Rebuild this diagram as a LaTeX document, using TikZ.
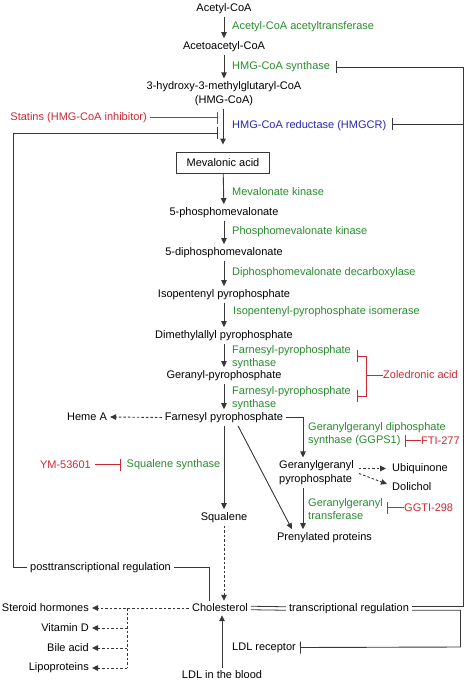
\documentclass[tikz,border=0pt]{standalone}
\usepackage{fontspec}
\setmainfont{Liberation Sans}
\usetikzlibrary{arrows.meta,calc}
\definecolor{enzg}{RGB}{40,140,45}
\definecolor{inhr}{RGB}{205,40,50}
\definecolor{enzb}{RGB}{40,40,175}
\definecolor{lnc}{RGB}{55,55,55}
\begin{document}
\begin{tikzpicture}[x=1pt,y=-1pt,
  every node/.style={font=\fontsize{11}{13.5}\selectfont, inner sep=0pt},
  met/.style={text=black, inner sep=3pt, align=center},
  enz/.style={text=enzg, anchor=west, align=left},
  inh/.style={text=inhr},
  ln/.style={draw=lnc, line width=0.9pt},
  arr/.style={ln, -{Triangle[length=6pt,width=5.5pt]}},
  darr/.style={arr, dash pattern=on 2.5pt off 2pt},
  dln/.style={ln, dash pattern=on 2.5pt off 2pt},
  redinh/.style={draw=inhr, line width=0.8pt, -{Bar[width=12pt]}},
  grayinh/.style={ln, -{Bar[width=12pt]}},
]
\useasboundingbox (0,0) rectangle (467,680);

% main column
\node[met] (acetyl) at (224,8.5) {Acetyl-CoA};
\node[met] (acetoacetyl) at (224,46.5) {Acetoacetyl-CoA};
\node[met] (hmg) at (224,93.5) {3-hydroxy-3-methylglutaryl-CoA\\(HMG-CoA)};
\node[draw=lnc, line width=0.9pt, minimum width=93pt, minimum height=21pt] (meva) at (223,162.5) {Mevalonic acid};
\node[met] (p5) at (224,212.5) {5-phosphomevalonate};
\node[met] (dp5) at (224,252.5) {5-diphosphomevalonate};
\node[met] (ipp) at (224,294.5) {Isopentenyl pyrophosphate};
\node[met] (dmapp) at (224,335.5) {Dimethylallyl pyrophosphate};
\node[met] (gpp) at (224,375.5) {Geranyl-pyrophosphate};
\node[met] (fpp) at (224,417.5) {Farnesyl pyrophosphate};
\node[met] (heme) at (87,417) {Heme A};
\node[met] (squalene) at (224,517.5) {Squalene};
\node[met] (chol) at (220,608) {Cholesterol};
\node[met] (ldl) at (222,675) {LDL in the blood};

% right branch
\node[met, anchor=west, align=left] (gg) at (276,472.5) {Geranylgeranyl\\pyrophosphate};
\node[met, anchor=west] (ubi) at (389,468.5) {Ubiquinone};
\node[met, anchor=west] (dol) at (389,487) {Dolichol};
\node[met] (pren) at (324.5,537.5) {Prenylated proteins};
\coordinate (ggx) at (303,0);

% cholesterol fates
\node[met, anchor=east] (steroid) at (92,608) {Steroid hormones};
\node[met, anchor=east] (vitd) at (92,628) {Vitamin D};
\node[met, anchor=east] (bile) at (92,648) {Bile acid};
\node[met, anchor=east] (lipo) at (92,668) {Lipoproteins};
\coordinate (br) at (127,608);

% regulation
\node[met, anchor=west] (ptr) at (27,567.5) {posttranscriptional regulation};
\node[met] (trans) at (349,608.5) {transcriptional regulation};
\node[met, anchor=east] (ldlr) at (299,647.5) {LDL receptor};

% enzymes
\node[enz] (e1) at (232,26.5) {Acetyl-CoA acetyltransferase};
\node[enz] (e2) at (232,66.5) {HMG-CoA synthase};
\node[enz, text=enzb] (e3) at (232,125.5) {HMG-CoA reductase (HMGCR)};
\node[enz] (e4) at (232,191.5) {Mevalonate kinase};
\node[enz] (e5) at (232,231.5) {Phosphomevalonate kinase};
\node[enz] (e6) at (232,272.5) {Diphosphomevalonate decarboxylase};
\node[enz] (e7) at (233,311.5) {Isopentenyl-pyrophosphate isomerase};
\node[enz] (e8) at (232,357) {Farnesyl-pyrophosphate\\synthase};
\node[enz] (e9) at (232,398) {Farnesyl-pyrophosphate\\synthase};
\node[enz] (e10) at (308,434) {Geranylgeranyl diphosphate\\synthase (GGPS1)};
\node[enz] (e11) at (308,509) {Geranylgeranyl\\transferase};
\node[enz] (sqs) at (126.5,464.5) {Squalene synthase};

% inhibitors
\node[inh, anchor=east] (statins) at (147,117.5) {Statins (HMG-CoA inhibitor)};
\node[inh, anchor=east] (ym) at (91,464.5) {YM-53601};
\node[inh, anchor=west] (zol) at (383,375) {Zoledronic acid};
\node[inh, anchor=west] (fti) at (421,440.5) {FTI-277};
\node[inh, anchor=west] (ggti) at (404,507.5) {GGTI-298};

% coordinates for bars and corners
\coordinate (sbx) at (218,0);
\coordinate (fbl) at (13,133);
\coordinate (rtop) at (463.5,67);
\coordinate (rmid) at (463.5,124);
\coordinate (rbot) at (460.5,647);

% main arrows
\draw[arr] (acetyl) -- (acetoacetyl);
\draw[arr] (acetoacetyl) -- (hmg);
\draw[arr, shorten >=7pt] (hmg.south -| meva.north) -- (meva.north);
\draw[arr] (meva) -- (p5);
\draw[arr] (p5) -- (dp5);
\draw[arr] (dp5) -- (ipp);
\draw[arr] (ipp) -- (dmapp);
\draw[arr] (dmapp) -- (gpp);
\draw[arr] (gpp) -- (fpp);
\draw[arr] (fpp) -- (squalene);
\draw[darr] (fpp.west) -- (heme.east);
\draw[darr] (squalene.south) -- (squalene.south |- chol.north);
\draw[arr] (ldl.north) -- (ldl.north |- chol.south);

% branch arrows
\draw[arr] (fpp.east) -| (ggx |- gg.north);
\draw[arr] (ggx |- gg.south) -- (ggx |- pren.north);
\draw[arr] ($(fpp.south)+(14,0)$) -- ($(pren.north west)+(18,0)$);
\draw[darr] ($(gg.east |- ubi)+(2,0)$) -- ($(ubi.west)+(-3,0)$);
\draw[darr] ($(gg.east)+(2,1)$) -- ($(dol.west)+(-2,-3)$);

% cholesterol fates
\draw[darr] (chol.west) -- (steroid.east);
\draw[dln] (br) -- (br |- lipo);
\draw[darr] (br |- vitd) -- (vitd.east);
\draw[darr] (br |- bile) -- (bile.east);
\draw[darr] (br |- lipo) -- (lipo.east);

% feedback: posttranscriptional
\draw[ln] ($(chol.north)+(-11,0)$) |- (ptr.east);
\draw[grayinh] (ptr.west) -| (fbl) -- (fbl -| sbx);

% feedback: transcriptional
\draw[ln, line width=0.8pt] ($(chol.east)+(0,-1.75)$) -- ($(trans.west)+(0,-1.75)$);
\draw[ln, line width=0.8pt] ($(chol.east)+(0,1.75)$) -- ($(trans.west)+(0,1.75)$);
\draw[grayinh] ($(trans.east)+(0,-1.75)$) -| (rtop) -- ($(e2.east)+(6,0.5)$);
\draw[grayinh] (rmid) -- ($(e3.east)+(6,-1.5)$);
\draw[grayinh] ($(trans.east)+(0,1.75)$) -| (rbot) -- ($(ldlr.east)+(1,0)$);

% inhibitors
\draw[redinh] (statins.east) ++(3,0) -- (statins.east -| sbx);
\draw[redinh] ($(ym.east)+(4,0)$) -- ($(sqs.west)+(-6,0)$);
\draw[redinh] (fti.west) -- ++(-16,0);
\draw[redinh] (ggti.west) -- ++(-17,0);
\draw[draw=inhr, line width=0.8pt] (zol.west) -- ++(-17,0);
\draw[draw=inhr, line width=0.8pt, {Bar[width=12pt]}-{Bar[width=12pt]}] (357,356) -- (366,356) -- (366,396) -- (357,396);
\end{tikzpicture}
\end{document}
